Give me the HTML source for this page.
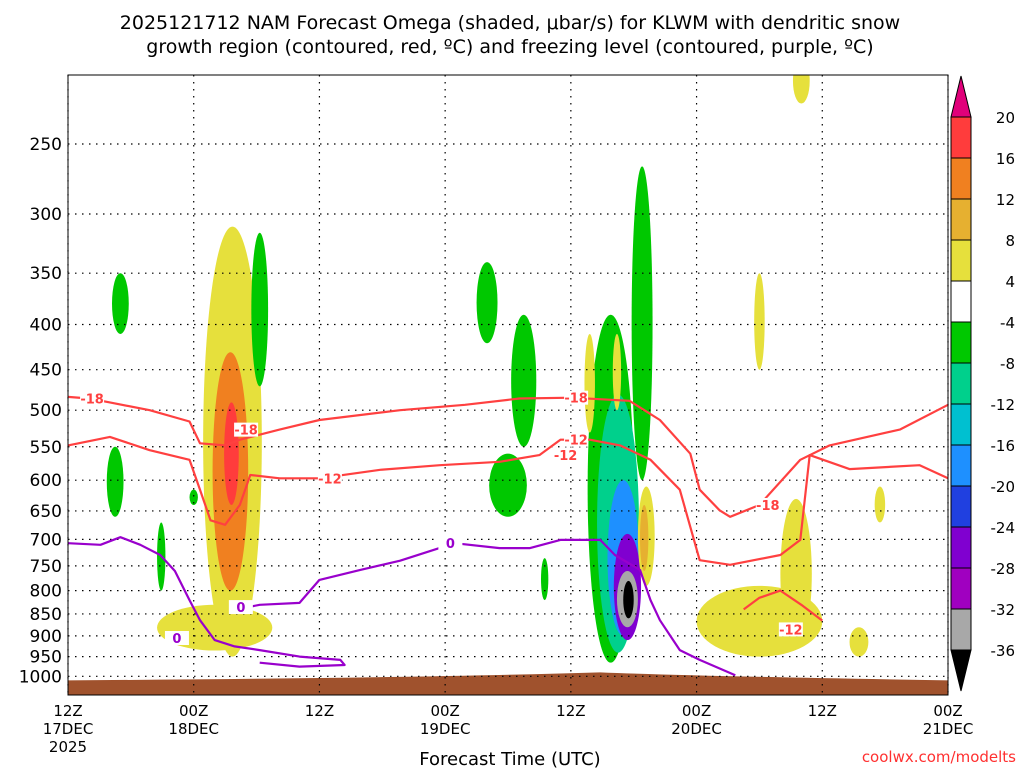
<!DOCTYPE html>
<html><head><meta charset="utf-8"><style>
body{margin:0;background:#fff;font-family:"DejaVu Sans","Liberation Sans",sans-serif;}
svg text{font-family:"DejaVu Sans","Liberation Sans",sans-serif;}
</style></head><body>
<svg id="c" width="1024" height="768" xmlns="http://www.w3.org/2000/svg">
<defs><clipPath id="clip"><rect x="68" y="75" width="880" height="620"/></clipPath></defs>
<text x="510" y="29" font-size="19" text-anchor="middle">2025121712 NAM Forecast Omega (shaded, μbar/s) for KLWM with dendritic snow</text>
<text x="510" y="53" font-size="19" text-anchor="middle">growth region (contoured, red, ºC) and freezing level (contoured, purple, ºC)</text>
<g id="plot"></g>
<text x="510" y="765" font-size="18" text-anchor="middle">Forecast Time (UTC)</text>
<text x="1016" y="762" font-size="15" fill="#ff3030" text-anchor="end">coolwx.com/modelts</text>
</svg>
<script>
// Axis data
const pTicks=[250,300,350,400,450,500,550,600,650,700,750,800,850,900,950,1000];
const xTickHours=[0,12,24,36,48,60,72,84];
const xTickTop=["12Z","00Z","12Z","00Z","12Z","00Z","12Z","00Z"];
const xTickBottom=["17DEC","18DEC","","19DEC","","20DEC","","21DEC"];
// Colorbar levels
const cbLabels=["20","16","12","8","4","-4","-8","-12","-16","-20","-24","-28","-32","-36"];
const cbColors=["#ff3c3c","#f08020","#e6b030","#e6e03c","#ffffff","#00c800","#00d08c","#00c0d0","#1e90ff","#2040e0","#8000d0","#a000c0","#a8a8a8"];
// Shaded omega blobs: center hour, half-width hours, top pressure, bottom pressure, colour index
const blobHour=[15.7,14,15.5,15.6,18.3,5,4.5,8.9,12,40,43.5,42,45.5,54.8,51.8,52.5,53,53.4,53.4,53.5,55.2,55,66,69.5,66,70,77.5,75.5,49.8,52.4];
const blobHalfW=[2.8,5.5,1.7,0.7,0.8,0.8,0.8,0.4,0.4,1,1.2,1.8,0.35,1,2.2,2,1.5,1.3,1,0.5,0.8,0.4,6,1.5,0.5,0.8,0.5,0.9,0.5,0.4];
const blobTop=[310,830,430,490,315,350,550,670,615,340,390,560,735,265,390,480,600,690,760,780,610,640,790,630,350,200,610,880,410,410];
const blobBottom=[950,935,800,640,470,410,660,800,640,420,550,660,820,600,965,940,900,910,880,860,790,760,950,930,450,225,670,950,530,500];
const blobLevel=[3,3,1,0,5,5,5,5,5,5,5,5,5,5,5,6,7,9,10,11,3,2,3,3,3,3,3,3,3,3];
// Contours: hours / pressures
const red18H=[0,2,4,7.8,11.6,12.6,15,16.4,20.2,24,31.7,37.9,43.1,48.1,53.6,56.5,59.4,60.3,62.2,63.2,66,69.9,72.7,79.4,84];
const red18P=[483,485,490,500,515,545,548,540,526,513,500,493,485,484,488,513,560,615,649,660,640,569,548,526,493];
const red12H=[0,4,7.8,11.6,12.6,13.6,15,16.4,17.4,20.2,24,29.8,35.5,41.2,45,47,49.8,52.7,55.6,58.4,60.3,63.2,68,69.9,70.8,74.6,81.3,84];
const red12P=[548,536,555,569,615,666,674,640,592,597,597,584,577,572,562,540,540,548,569,615,739,748,729,701,562,583,577,597];
const red12bH=[64.5,66,68,70,72];
const red12bP=[840,815,800,830,865];
const purpH=[0,3.1,5,6.9,8.8,10.2,11.6,12.6,14,15.9,18.3,22.1,26,26.4,22.1,18.3];
const purpP=[707,710,696,710,729,760,820,864,910,925,934,950,958,971,975,965];
const purp2H=[15.9,18.3,22.1,24,27.9,31.7,36.9,41.2,44.1,47,50.8,52.2,54.6,55.6,56.5,58.4,60.3,63.7];
const purp2P=[841,830,826,778,758,740,707,716,716,701,701,729,758,820,864,934,958,997];
// Labels on contours
const lblText=["-18","-12","-18","-12","-18","-12","0","0","0","-18","-12"];
const lblH=[2.3,25,48.5,48.5,17,47.5,36.5,10.4,16.5,66.8,69];
const lblP=[485,597,484,540,526,562,707,905,835,640,885];
const lblCol=["#ff4040","#ff4040","#ff4040","#ff4040","#ff4040","#ff4040","#9900cc","#9900cc","#9900cc","#ff4040","#ff4040"];

const X0=68,X1=948,Y0=75,Y1=695;
const xs=h=>X0+h*(X1-X0)/84;
const ys=p=>144+384*Math.log(p/250);
const NS="http://www.w3.org/2000/svg";
const g=document.getElementById('plot');
function mk(t,a,par){const e=document.createElementNS(NS,t);for(const k in a)e.setAttribute(k,a[k]);(par||g).appendChild(e);return e;}
const shades=mk('g',{"clip-path":"url(#clip)"});


const blobCols=["#ff3c3c","#f08020","#e6b030","#e6e03c","#fff","#00c800","#00d08c","#1e90ff","#2040e0","#8000d0","#a8a8a8","#000"];
blobHour.forEach((h,i)=>{
  const cx=xs(h),rx=blobHalfW[i]*(X1-X0)/84,yt=ys(blobTop[i]),yb=ys(blobBottom[i]);
  const e=mk('ellipse',{cx:cx,cy:(yt+yb)/2,rx:rx,ry:(yb-yt)/2,fill:blobCols[blobLevel[i]]},shades);
  
  
});
// ground
const gr=mk('path',{d:`M${X0} ${ys(1000)+4} Q400 ${ys(1000)+2} 600 ${ys(1000)-4} Q700 ${ys(1000)} ${X1} ${ys(1000)+4} L${X1} ${Y1} L${X0} ${Y1}Z`,fill:"#a0522d"});


// grid
pTicks.forEach(p=>{
  const y=ys(p);
  const l=mk('line',{x1:X0,x2:X1,y1:y,y2:y,stroke:"#000","stroke-dasharray":"1.5 5.5","stroke-width":1.2});
  
  
  const t=mk('text',{x:62,y:y+6,"font-size":17,"text-anchor":"end"});t.textContent=p;
  
  
});
xTickHours.forEach((h,i)=>{
  const x=xs(h);
  const l=mk('line',{x1:x,x2:x,y1:Y0,y2:Y1,stroke:"#000","stroke-dasharray":"1.5 5.5","stroke-width":1.2});
  
  
  const t=mk('text',{x:x,y:716,"font-size":15,"text-anchor":"middle"});t.textContent=xTickTop[i];
  
  
  if(xTickBottom[i]){const b=mk('text',{x:x,y:734,"font-size":15,"text-anchor":"middle"});b.textContent=xTickBottom[i];
  
  }
});
const yr=mk('text',{x:X0,y:752,"font-size":15,"text-anchor":"middle"});yr.textContent="2025";


function line(H,P,col,name){
  const d=H.map((h,i)=>(i?'L':'M')+xs(h).toFixed(1)+' '+ys(P[i]).toFixed(1)).join(' ');
  const e=mk('path',{d:d,fill:"none",stroke:col,"stroke-width":2.2,"stroke-linejoin":"round"});
  
  
}
line(red18H,red18P,"#ff4040","contour-minus18");
line(red12H,red12P,"#ff4040","contour-minus12");
line(red12bH,red12bP,"#ff4040","contour-minus12-low");
line(purpH,purpP,"#9900cc","freezing-level-1");
line(purp2H,purp2P,"#9900cc","freezing-level-2");
lblText.forEach((s,i)=>{
  const x=xs(lblH[i]),y=ys(lblP[i]);
  const bg=mk('rect',{x:x-12,y:y-7,width:24,height:14,fill:"#fff"});
  
  
  const t=mk('text',{x:x,y:y+5,"font-size":13,"font-weight":"bold",fill:lblCol[i],"text-anchor":"middle"});t.textContent=s;
  
  
});
const fr=mk('rect',{x:X0,y:Y0,width:X1-X0,height:Y1-Y0,fill:"none",stroke:"#000","stroke-width":1});


// colorbar
const cbX=951,cbW=20,cbTop=117,cbStep=41;
const tri=mk('path',{d:`M${cbX} ${cbTop} L${cbX+cbW/2} 76 L${cbX+cbW} ${cbTop}Z`,fill:"#e0007a",stroke:"#000"});


cbColors.forEach((c,i)=>{
  const r=mk('rect',{x:cbX,y:cbTop+i*cbStep,width:cbW,height:cbStep,fill:c,stroke:"#000"});
  
  
});
const yb=cbTop+cbColors.length*cbStep;
const tri2=mk('path',{d:`M${cbX} ${yb} L${cbX+cbW/2} 691 L${cbX+cbW} ${yb}Z`,fill:"#000",stroke:"#000"});


cbLabels.forEach((s,i)=>{
  const t=mk('text',{x:1015,y:cbTop+i*cbStep+6,"font-size":15,"text-anchor":"end"});t.textContent=s;
  
  
});
</script>
</body></html>
